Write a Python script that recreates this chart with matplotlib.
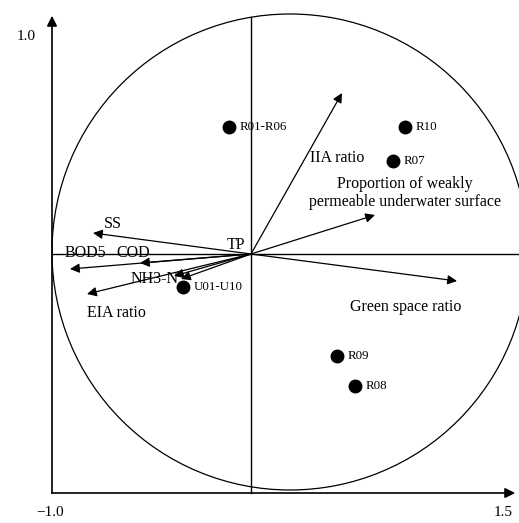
import numpy as np
import matplotlib.pyplot as plt
from matplotlib.patches import Circle

plt.rcParams["font.family"] = ["Liberation Serif", "DejaVu Serif"]

# sample scores
site_names = ["R01-R06", "R10", "R07", "U01-U10", "R09", "R08"]
site_x = [-0.11, 0.77, 0.71, -0.34, 0.43, 0.52]
site_y = [0.635, 0.635, 0.465, -0.165, -0.51, -0.66]

# variable loadings
var_names = ["IIA ratio", "Proportion of weakly\npermeable underwater surface",
             "Green space ratio", "SS", "BOD5", "COD", "NH3-N", "TP", "EIA ratio"]
var_x = [0.455, 0.62, 1.03, -0.79, -0.905, -0.555, -0.385, -0.35, -0.82]
var_y = [0.805, 0.195, -0.135, 0.105, -0.075, -0.045, -0.11, -0.125, -0.2]

# label anchor points for the variables
lab_x = [0.295, 0.77, 0.775, -0.69, -0.83, -0.59, -0.48, -0.075, -0.675]
lab_y = [0.48, 0.305, -0.265, 0.15, 0.005, 0.005, -0.125, 0.045, -0.295]
lab_ha = ["left", "center", "center", "center", "center", "center", "center", "center", "center"]

fig = plt.figure(figsize=(5.19, 5.23), dpi=100)
ax = fig.add_axes([0, 0, 1, 1])
ax.set_xlim(-1.255, 1.34)
ax.set_ylim(-1.345, 1.27)
ax.axis("off")

left, bottom = -0.995, -1.195
right, top = 1.335, 1.205

ax.add_patch(Circle((0.195, 0.01), 1.19, fill=False, lw=0.9, color="black"))

# frame axes with arrows
ax.plot([left, left], [bottom, top - 0.05], color="black", lw=1.2)
ax.plot([left, right - 0.05], [bottom, bottom], color="black", lw=1.2)
ax.annotate("", xy=(left, top), xytext=(left, top - 0.06),
            arrowprops=dict(arrowstyle="-|>", color="black", lw=1.2, mutation_scale=15))
ax.annotate("", xy=(right, bottom), xytext=(right - 0.06, bottom),
            arrowprops=dict(arrowstyle="-|>", color="black", lw=1.2, mutation_scale=15))

# centre cross
ax.plot([0, 0], [bottom, 1.185], color="black", lw=1.0)
ax.plot([left, 1.34], [0, 0], color="black", lw=1.0)

for name, x, y, tx, ty, ha in zip(var_names, var_x, var_y, lab_x, lab_y, lab_ha):
    ax.annotate("", xy=(x, y), xytext=(0, 0),
                arrowprops=dict(arrowstyle="-|>", color="black", lw=0.9,
                                mutation_scale=14, shrinkA=0, shrinkB=0))
    ax.text(tx, ty, name, ha=ha, va="center", fontsize=11.5, linespacing=1.15)

ax.plot(site_x, site_y, "o", color="black", markersize=9, ls="none")
for name, x, y in zip(site_names, site_x, site_y):
    ax.text(x + 0.052, y, name, ha="left", va="center", fontsize=9.3)

ax.text(-1.125, 1.09, "1.0", ha="center", va="center", fontsize=11)
ax.text(-1.005, -1.295, "\u22121.0", ha="center", va="center", fontsize=11)
ax.text(1.26, -1.295, "1.5", ha="center", va="center", fontsize=11)

fig.savefig("out.png", dpi=100)
